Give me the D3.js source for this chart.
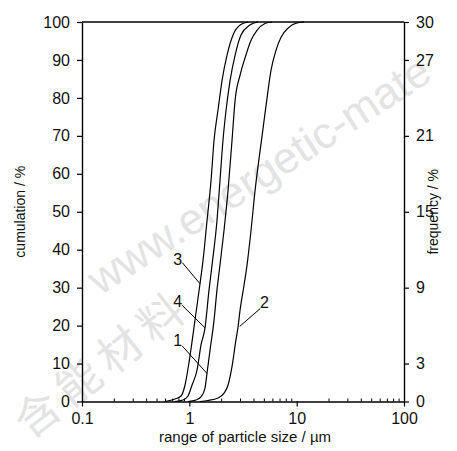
<!DOCTYPE html>
<html>
<head>
<meta charset="utf-8">
<script src="https://cdn.jsdelivr.net/npm/d3@7"></script>
<style>
  body { margin: 0; background: #fff; }
  text { font-family: "Liberation Sans", Arial, sans-serif; fill: #111; }
</style>
</head>
<body>
<script>
// Data (particle size in µm, cumulative %)
const size1 = [0.97, 1.155, 1.285, 1.40, 1.462, 1.56, 1.70, 1.81, 1.93, 2.106, 2.295, 2.50, 2.67, 2.97, 3.30, 3.76, 4.27, 5.07, 5.90];
const cum1 = [0, 0.4, 1.2, 3.6, 7.5, 13.6, 21.5, 29.4, 36.0, 45.2, 55.7, 68.9, 79.4, 86.0, 90.5, 95.2, 97.8, 99.6, 100];

const size2 = [1.258, 1.486, 1.85, 2.106, 2.295, 2.447, 2.555, 2.67, 2.84, 2.97, 3.235, 3.45, 3.76, 4.10, 4.46, 4.76, 5.19, 5.77, 6.43, 7.15, 8.31, 9.87, 11.7];
const cum2 = [0, 0.26, 0.92, 2.2, 4.35, 7.8, 10.9, 14.8, 19.6, 24.1, 30.7, 36.0, 45.2, 55.7, 64.0, 70.0, 78.1, 87.3, 92.6, 96.0, 98.4, 99.7, 100];

const size3 = [0.594, 0.736, 0.837, 0.912, 0.994, 1.13, 1.258, 1.342, 1.462, 1.593, 1.70, 1.85, 2.02, 2.245, 2.555, 2.97, 3.52];
const cum3 = [0, 0.66, 1.45, 4.35, 10.4, 21.5, 31.1, 37.2, 47.7, 58.2, 68.9, 76.8, 84.7, 91.3, 96.6, 99.2, 100];

const size4 = [0.736, 0.874, 0.972, 1.06, 1.18, 1.285, 1.40, 1.526, 1.628, 1.81, 1.93, 2.06, 2.20, 2.40, 2.67, 3.03, 3.66, 4.37];
const cum4 = [0, 0.4, 1.45, 4.35, 8.3, 14.9, 19.4, 29.4, 36.0, 47.7, 58.2, 68.9, 76.8, 84.7, 91.3, 96.6, 99.2, 100];

const xTicks = [0.1, 1, 10, 100];
const xTickLabels = ["0.1", "1", "10", "100"];
const yLeftTicks = [0, 10, 20, 30, 40, 50, 60, 70, 80, 90, 100];
const yRightTicks = [0, 3, 9, 15, 21, 27, 30];

const series = [
  { name: "1", size: size1, cum: cum1 },
  { name: "2", size: size2, cum: cum2 },
  { name: "3", size: size3, cum: cum3 },
  { name: "4", size: size4, cum: cum4 }
];

// Curve labels: text position and leader line end points in data units
const labels = [
  { name: "3", tx: 0.78, ty: 37.5, from: [0.86, 36.6], to: [1.26, 31.0] },
  { name: "4", tx: 0.78, ty: 26.5, from: [0.86, 25.3], to: [1.40, 19.4] },
  { name: "1", tx: 0.78, ty: 16.0, from: [0.86, 14.6], to: [1.46, 7.4] },
  { name: "2", tx: 5.0, ty: 26.0, from: [4.58, 24.5], to: [2.95, 19.8] }
];

const width = 457, height = 451;
const mLeft = 82, mRight = 404, mTop = 22, mBottom = 401.5;

const svg = d3.select("body").append("svg")
  .attr("width", width)
  .attr("height", height);

// Watermark
const wm = svg.append("g");
wm.append("text")
  .attr("transform", "translate(100,296) rotate(-33)")
  .style("font-size", "44px")
  .style("fill", "#e3e3e3")
  .text("www.energetic-mate");
wm.append("text")
  .attr("transform", "translate(30,440) rotate(-38)")
  .style("font-family", "'Noto Sans CJK SC', sans-serif")
  .style("font-size", "44px")
  .style("fill", "#e3e3e3")
  .attr("letter-spacing", "8")
  .text("含能材料");

const x = d3.scaleLog().domain([0.1, 100]).range([mLeft, mRight]);
const y = d3.scaleLinear().domain([0, 100]).range([mBottom, mTop]);
const y2 = d3.scaleLinear().domain([0, 30]).range([mBottom, mTop]);

// Frame top line
svg.append("line")
  .attr("x1", mLeft).attr("x2", mRight)
  .attr("y1", mTop).attr("y2", mTop)
  .attr("stroke", "#000").attr("stroke-width", 1.4);

// Left axis
const gL = svg.append("g")
  .attr("transform", `translate(${mLeft},0)`)
  .call(d3.axisLeft(y).tickValues(yLeftTicks).tickSize(5).tickPadding(7).tickSizeOuter(0));

// Right axis
const gR = svg.append("g")
  .attr("transform", `translate(${mRight},0)`)
  .call(d3.axisRight(y2).tickValues(yRightTicks).tickSize(5).tickPadding(7).tickSizeOuter(0));

// Bottom axis, major ticks outward
const gB = svg.append("g")
  .attr("transform", `translate(0,${mBottom})`)
  .call(d3.axisBottom(x).tickValues(xTicks).tickFormat((d, i) => xTickLabels[i])
    .tickSize(5).tickPadding(4).tickSizeOuter(0));

// Minor ticks inward
const minor = [];
[0.1, 1, 10].forEach(dec => { for (let k = 2; k <= 9; k++) minor.push(dec * k); });
svg.append("g").selectAll("line").data(minor).enter().append("line")
  .attr("x1", d => x(d)).attr("x2", d => x(d))
  .attr("y1", mBottom).attr("y2", mBottom - 3)
  .attr("stroke", "#000").attr("stroke-width", 1);

[gL, gR, gB].forEach(g => {
  g.select(".domain").attr("stroke", "#000").attr("stroke-width", 1.4);
  g.selectAll(".tick line").attr("stroke", "#000").attr("stroke-width", 1.2);
  g.selectAll(".tick text").style("font-size", "16px").attr("fill", "#111");
});
gB.selectAll(".tick text").attr("dy", "0.85em");

// Curves
const line = d3.line()
  .x(d => x(d[0]))
  .y(d => y(d[1]))
  .curve(d3.curveMonotoneX);

svg.append("g").selectAll("path").data(series).enter().append("path")
  .attr("d", s => line(s.size.map((v, i) => [v, s.cum[i]])))
  .attr("fill", "none")
  .attr("stroke", "#000")
  .attr("stroke-width", 1.2);

// Curve labels and leaders
const lg = svg.append("g");
labels.forEach(l => {
  lg.append("line")
    .attr("x1", x(l.from[0])).attr("y1", y(l.from[1]))
    .attr("x2", x(l.to[0])).attr("y2", y(l.to[1]))
    .attr("stroke", "#000").attr("stroke-width", 1);
  lg.append("text")
    .attr("x", x(l.tx)).attr("y", y(l.ty))
    .attr("text-anchor", "middle")
    .attr("dy", "0.35em")
    .style("font-size", "16px")
    .text(l.name);
});

// Axis titles
svg.append("text")
  .attr("transform", `translate(25,${(mTop + mBottom) / 2}) rotate(-90)`)
  .attr("text-anchor", "middle")
  .style("font-size", "14px")
  .text("cumulation / %");

svg.append("text")
  .attr("transform", `translate(438,${(mTop + mBottom) / 2}) rotate(-90)`)
  .attr("text-anchor", "middle")
  .style("font-size", "14px")
  .text("frequency / %");

svg.append("text")
  .attr("x", (mLeft + mRight) / 2 + 2)
  .attr("y", 442)
  .attr("text-anchor", "middle")
  .style("font-size", "15px")
  .text("range of particle size / µm");
</script>
</body>
</html>
